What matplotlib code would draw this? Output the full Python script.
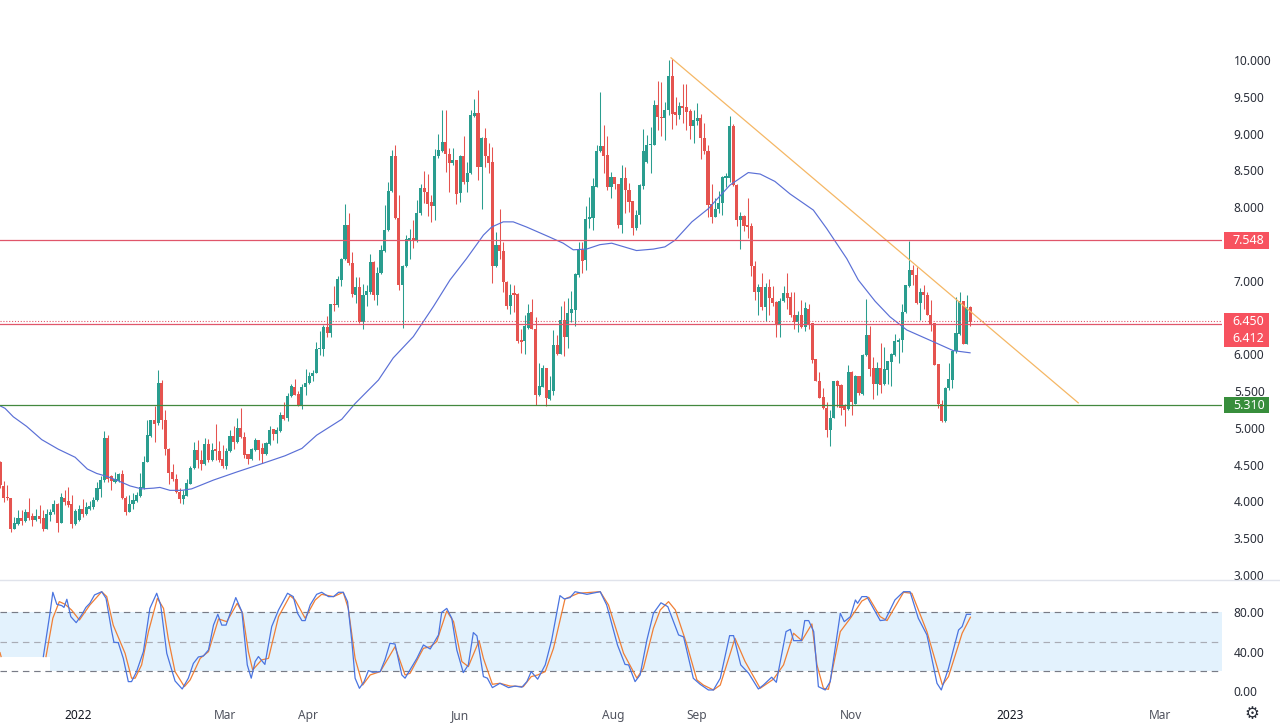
import matplotlib
matplotlib.use('Agg')
import matplotlib.pyplot as plt
import matplotlib.transforms as transforms
from matplotlib.lines import Line2D
from matplotlib.patches import Rectangle
import numpy as np

plt.rcParams['font.family'] = ['Noto Sans', 'DejaVu Sans']

# daily candles
opens = [4.53,4.21,4.06,4.04,3.63,3.69,3.77,3.74,3.85,3.80,
         3.75,3.80,3.77,3.63,3.81,3.85,3.96,3.71,4.05,4.00,
         3.96,3.69,3.75,3.90,3.83,3.90,3.93,4.02,4.17,4.29,
         4.86,4.34,4.27,4.28,4.37,4.05,3.86,3.96,4.00,4.07,
         4.18,4.54,4.89,5.10,5.06,5.61,5.10,4.71,4.40,4.31,
         4.13,4.03,4.08,4.24,4.45,4.70,4.56,4.51,4.78,4.56,
         4.71,4.69,4.57,4.48,4.68,4.89,4.81,5.00,4.87,4.64,
         4.58,4.70,4.83,4.72,4.65,4.78,4.98,4.92,4.96,5.17,
         5.13,5.43,5.56,5.46,5.30,5.55,5.61,5.70,5.75,6.07,
         6.07,6.37,6.29,6.68,6.67,7.01,7.29,7.76,7.24,6.81,
         6.91,6.44,6.80,6.85,7.25,6.80,7.10,7.41,7.69,8.22,
         8.69,7.85,6.94,7.20,7.55,7.58,7.54,7.92,8.26,8.20,
         8.07,8.02,8.69,8.77,8.88,8.72,8.60,8.64,8.19,8.70,
         8.34,8.46,9.24,9.28,8.54,8.94,8.70,8.61,7.20,7.49,
         7.40,6.98,6.66,6.83,6.82,6.20,6.18,6.36,6.57,6.35,
         5.44,5.56,5.82,5.39,5.50,6.13,6.01,6.47,6.23,6.56,
         6.60,7.08,7.42,7.28,7.84,7.85,8.28,8.77,8.83,8.71,
         8.28,8.41,8.32,7.76,8.39,8.23,8.08,7.72,7.90,8.29,
         8.61,8.84,8.85,9.39,9.22,9.21,9.32,9.78,9.29,9.25,
         9.36,9.36,9.31,9.10,9.17,9.21,8.94,8.77,8.04,7.87,
         7.97,8.05,8.40,8.40,9.10,8.30,7.82,7.88,7.76,7.75,
         7.20,6.84,6.91,6.64,6.91,6.77,6.71,6.41,6.73,6.83,
         6.78,6.54,6.44,6.53,6.37,6.62,6.42,5.93,5.64,5.42,
         5.27,4.97,5.14,5.64,5.58,5.29,5.25,5.76,5.33,5.70,
         5.46,5.99,6.26,5.81,5.60,5.81,5.59,5.79,5.90,5.99,
         6.17,6.19,6.57,6.93,7.15,7.08,6.70,6.84,6.80,6.54,
         6.42,5.87,5.33,5.09,5.54,5.65,6.04,6.28,6.72,6.14,6.64]
highs = [4.55,4.28,4.22,4.05,3.79,3.88,3.88,3.90,4.04,3.84,
         3.89,3.95,3.88,3.90,3.90,4.02,3.98,4.11,4.16,4.20,
         4.09,3.90,3.95,4.03,3.99,4.01,4.06,4.27,4.34,4.96,
         4.90,4.36,4.40,4.39,4.43,4.07,4.09,4.12,4.13,4.39,
         4.62,5.10,5.10,5.29,5.78,5.65,5.24,4.72,4.51,4.37,
         4.18,4.16,4.30,4.48,4.81,4.83,4.70,4.86,4.85,4.79,
         5.05,4.82,4.77,4.72,4.97,5.02,5.13,5.27,4.95,4.65,
         4.72,4.86,4.84,4.79,4.81,5.03,4.99,5.01,5.22,5.35,
         5.47,5.60,5.67,5.50,5.60,5.80,5.76,5.79,6.17,6.31,
         6.40,6.52,6.69,6.93,7.07,7.31,8.04,7.92,7.39,7.05,
         7.05,6.96,6.94,7.36,7.27,7.19,7.49,8.03,8.34,8.78,
         8.85,8.17,7.21,7.62,7.70,7.83,8.10,8.31,8.49,8.45,
         8.16,8.79,8.99,9.32,9.32,8.81,8.81,8.64,8.71,8.97,
         8.61,9.32,9.47,9.59,8.96,9.08,8.87,8.82,7.66,7.98,
         7.53,6.99,6.95,6.94,6.83,6.35,6.53,6.69,6.75,6.51,
         5.88,5.85,5.82,5.70,6.33,6.26,6.65,6.73,6.76,6.86,
         7.10,7.52,7.52,8.02,8.14,8.39,8.85,9.56,9.12,8.97,
         8.48,8.41,8.32,8.57,8.55,8.33,8.08,7.96,8.32,9.06,
         8.98,9.09,9.46,9.71,9.70,9.43,10.00,10.02,9.50,9.43,
         9.68,9.68,9.34,9.32,9.42,9.27,9.15,8.85,8.31,8.12,
         8.22,8.43,8.47,9.24,9.13,8.31,7.94,7.90,8.12,7.78,
         7.27,6.95,7.11,6.97,7.02,6.93,6.72,6.76,6.93,7.10,
         6.84,6.84,6.59,6.74,6.71,6.68,6.42,5.93,5.76,5.54,
         5.35,5.24,5.64,5.65,5.60,5.33,5.86,5.77,5.72,5.71,
         6.00,6.75,6.38,5.96,5.90,6.15,6.10,5.91,6.02,6.28,
         6.22,6.68,6.94,7.54,7.21,7.19,6.90,6.94,6.85,6.74,
         6.42,5.87,5.38,5.56,5.88,6.06,6.78,6.85,6.72,6.81,6.66]
lows = [4.18,3.99,4.02,3.59,3.62,3.68,3.68,3.72,3.75,3.66,
        3.74,3.70,3.60,3.62,3.74,3.83,3.59,3.70,3.95,3.93,
        3.64,3.68,3.74,3.79,3.81,3.88,3.90,4.00,4.06,4.27,
        4.27,4.16,4.25,4.27,4.03,3.82,3.85,3.90,3.99,4.06,
        4.17,4.53,4.88,4.81,5.04,4.99,4.63,4.24,4.28,4.11,
        3.98,3.97,4.07,4.23,4.44,4.45,4.42,4.50,4.53,4.55,
        4.56,4.53,4.46,4.44,4.67,4.71,4.80,4.86,4.59,4.51,
        4.56,4.69,4.56,4.52,4.63,4.77,4.84,4.79,4.95,5.11,
        5.09,5.42,5.44,5.29,5.25,5.45,5.60,5.64,5.74,5.99,
        5.98,6.24,6.24,6.59,6.64,6.93,7.28,7.21,6.78,6.70,
        6.43,6.34,6.65,6.82,6.74,6.67,7.09,7.39,7.68,8.21,
        7.84,6.87,6.36,7.19,7.30,7.45,7.53,7.90,8.05,7.88,
        7.80,7.83,8.67,8.75,8.48,8.20,8.57,8.04,8.07,8.32,
        8.20,8.45,9.23,8.37,7.97,8.54,8.47,6.97,7.19,7.30,
        6.85,6.62,6.55,6.58,6.16,6.02,6.00,6.34,6.34,5.31,
        5.43,5.55,5.29,5.38,5.45,5.99,6.00,5.98,6.08,6.44,
        6.39,7.05,7.10,7.15,7.72,7.69,8.27,8.75,8.46,8.23,
        8.13,8.25,7.71,7.65,7.92,7.94,7.62,7.69,7.77,8.25,
        8.60,8.46,8.84,9.05,8.97,8.91,9.25,9.06,9.12,9.20,
        9.14,9.05,8.93,8.87,9.12,8.66,8.72,7.86,7.79,7.86,
        7.92,7.89,8.28,8.34,8.29,7.74,7.43,7.67,7.58,7.07,
        6.74,6.53,6.60,6.45,6.53,6.65,6.23,6.24,6.71,6.62,
        6.51,6.34,6.30,6.36,6.31,6.34,5.88,5.64,5.40,5.25,
        4.88,4.75,5.13,5.28,5.17,5.03,5.24,5.17,5.32,5.45,
        5.45,5.98,5.70,5.39,5.44,5.47,5.58,5.60,5.57,5.98,
        5.88,6.03,6.56,6.92,6.94,6.69,6.47,6.62,6.53,6.31,
        5.85,5.27,5.08,5.08,5.51,5.54,6.02,6.26,6.14,6.14,6.38]
closes = [4.22,4.05,4.04,3.63,3.70,3.78,3.73,3.85,3.78,3.75,
          3.80,3.76,3.63,3.83,3.85,3.96,3.71,4.06,3.99,3.95,
          3.69,3.87,3.89,3.83,3.93,3.94,4.02,4.18,4.29,4.86,
          4.31,4.28,4.30,4.37,4.04,3.86,3.97,4.02,4.09,4.19,
          4.54,4.90,5.10,5.05,5.61,5.10,4.71,4.39,4.31,4.13,
          4.03,4.09,4.25,4.45,4.70,4.56,4.51,4.78,4.56,4.70,
          4.68,4.56,4.48,4.69,4.89,4.81,5.00,4.87,4.63,4.58,
          4.71,4.84,4.70,4.65,4.79,4.97,4.92,4.97,5.17,5.12,
          5.43,5.57,5.45,5.29,5.56,5.61,5.71,5.75,6.07,6.08,
          6.37,6.29,6.68,6.67,7.02,7.29,7.76,7.24,6.82,6.91,
          6.44,6.81,6.86,7.25,6.80,7.11,7.42,7.69,8.22,8.69,
          7.85,6.94,7.20,7.57,7.58,7.54,7.92,8.26,8.20,8.04,
          8.02,8.69,8.78,8.88,8.72,8.60,8.64,8.18,8.70,8.34,
          8.46,9.25,9.28,8.54,8.94,8.69,8.60,7.20,7.49,7.40,
          6.98,6.66,6.81,6.81,6.18,6.17,6.39,6.56,6.35,5.44,
          5.57,5.82,5.40,5.51,6.13,6.01,6.47,6.23,6.56,6.62,
          7.09,7.42,7.27,7.84,7.85,8.29,8.77,8.83,8.70,8.28,
          8.41,8.32,7.76,8.39,8.23,8.07,7.72,7.90,8.30,8.77,
          8.84,8.85,9.39,9.22,9.21,9.32,9.78,9.27,9.25,9.37,
          9.35,9.30,9.10,9.18,9.21,8.94,8.76,8.03,7.86,7.98,
          8.05,8.41,8.43,9.10,8.30,7.82,7.88,7.75,7.73,7.20,
          6.84,6.91,6.64,6.91,6.77,6.70,6.41,6.73,6.83,6.77,
          6.53,6.44,6.53,6.37,6.63,6.41,5.92,5.64,5.41,5.27,
          4.97,5.14,5.64,5.57,5.27,5.24,5.76,5.35,5.70,5.47,
          5.99,6.26,5.80,5.60,5.81,5.58,5.80,5.91,6.00,6.18,
          6.19,6.58,6.94,7.15,7.08,6.70,6.84,6.80,6.53,6.41,
          5.86,5.32,5.09,5.54,5.66,6.05,6.29,6.72,6.14,6.64,6.44]

# moving average, sampled at the bends
ma_bars = [0,1.4,3.7,7.4,11.6,16.2,20.9,24.3,26.9,29.7,32.9,36.2,39.4,42.7,44.5,47.3,50.6,53.3,
           59.4,65.9,73.3,79.3,84,88.1,95.1,98.8,105.3,109.4,115,120.6,125.2,129.8,134.5,136.8,
           140,142.8,146.5,152.6,156.7,159.5,163.2,166.9,170.2,177.1,181.8,185,187.8,192.5,197.1,
           203.1,208.2,211.5,215.6,219.8,226.3,230,235.6,238.8,243.5,247.6,252.3,259.7,265.2,269.9]
ma_vals = [5.30,5.265,5.15,5.02,4.84,4.71,4.60,4.44,4.38,4.34,4.28,4.21,4.17,4.18,4.19,4.15,4.15,4.17,
           4.29,4.40,4.52,4.62,4.72,4.90,5.117,5.33,5.65,5.95,6.24,6.65,7.01,7.30,7.62,7.73,
           7.80,7.80,7.73,7.60,7.51,7.42,7.43,7.49,7.51,7.41,7.43,7.46,7.55,7.80,7.98,
           8.30,8.47,8.45,8.35,8.18,7.96,7.71,7.30,7.01,6.72,6.51,6.33,6.17,6.05,6.02]

# stochastic %K and %D, sampled at the bends
k_bars = [12.06,13.9,14.7,15.8,17.2,17.8,18.6,19.7,21.2,22.7,23.9,25,26.3,28.3,29.5,31.1,31.7,32.9,34.3,35.7,
          36.6,38,39.9,41.7,43.6,44.7,46.4,48.7,50.7,52.4,53.8,55.2,56.6,58,59.4,60.6,61.7,62.9,65.6,67.3,
          68.8,69.9,71,71.9,73.7,75.6,77.5,80,81.6,82.8,84,84.9,86.3,88.1,89.5,91.4,92.8,94.2,95.5,96.7,
          97.9,98.8,100,101.3,102.5,103.7,105.8,107.1,108.5,109.9,111.8,112.7,116,117.8,119.7,122,122.9,124.3,125.7,127.1,
          128.9,130.3,131.7,132.7,134.5,135.6,137,139.1,141.5,143.3,145.2,146.6,147.8,149.6,151.7,153.5,155.8,157,158.6,160,
          163.3,167,168.8,171.8,173.9,174.9,176.7,178.1,180,181.8,183.9,185.8,188.8,190.2,192.9,194.8,197.1,198.5,200.4,203,
          204.1,206.1,208.3,211,212.4,214.7,216,218.7,219.9,220.8,223,223.9,225,226.4,227.7,229.6,231,233.8,234.9,236.6,
          238,238.6,239.8,241.2,244.9,246.3,249,251.4,253.2,255.5,257.9,260.7,261.9,263.9,266.7,267.7,268.9,270]
k_vals = [35,79,100.4,88.2,86.8,85,93.3,75.6,69.5,77.3,85,89.2,97.7,101,94.3,60.4,49.5,49.2,33.2,9.5,
          9.5,19.7,40,84,99.4,87.5,38.3,10.2,2,13,28,34.6,35.6,41.7,67,78,67,67,95,80.7,
          26.5,13,30,35,27,65.5,82.4,99.4,96,79,71.6,71.6,87.5,98.3,100.4,96,96,100.4,100.4,90.9,
          50.2,13,2.7,9.5,20.7,19,19.7,31.6,48.5,47.8,16.3,13,33.2,46.8,42.7,57,80,84,74,41.7,
          18.7,26.5,59.4,56,14.6,13,3.4,7.8,3.4,5,3.8,9.5,19.7,12,26.5,52,97,93.6,95,101,
          98.3,101,87.5,46.8,27,26.5,9.5,16.3,52,79,89.7,85.8,57,55,12.9,6.8,1,1,12.9,56.3,
          56.3,26.5,18,2,6,14,8.8,60.4,62.7,51.2,51.2,71.6,71.6,60.4,4.4,1,9.5,79,70.5,75.6,
          92.6,89.2,96,96,71.6,72.2,92.6,101,101,74,57,7.8,1,23,62,65.5,78,78]
d_bars = [12.8,14.7,16.5,18.1,19.9,22.1,25,28.3,29.7,31.5,34.8,36.6,37.6,39.4,41.3,43.8,45.5,46.8,48.7,51.3,
          52.9,55.7,58,60.8,63.1,66,67.5,69.1,70.3,72.8,74.7,77.5,80.7,82.1,84.9,87.7,89.5,92.8,95.5,96.9,
          98.8,100.9,103,105.8,109.9,112.7,114.1,117.8,119.7,121.5,124.3,126.2,128.5,130.3,133.3,134.5,137,139.1,141.9,145.6,
          147.8,149.6,151.7,154,157.2,160.9,167,169.3,173.5,177.2,179,181.8,183.7,186,187.9,191,193.9,195.7,198.5,200.4,
          204.5,207.3,211.5,215.2,218,220.8,223.1,225.9,227.3,229.1,230.5,233.8,236.6,239.8,241.7,244.9,246.8,251.4,253.7,257.9,
          262.2,263.9,267.7,270]
d_vals = [35,74,90.9,88.2,82.4,72.2,87.5,101,96,67,38.3,13,13,26.5,60.4,94.3,84,53.6,19.7,4.4,
          11.2,33.2,40,73.3,70.5,89.2,79,40,21.4,31.6,33.2,75.6,97,92.6,74,92.6,98.3,96,100.4,84,
          33.2,6,16.3,19.7,45,16.3,18,43.4,45,50.2,81.4,70.5,29.9,24.8,51.2,33.2,6.8,7.8,5,4.4,
          14.6,16.3,19.7,43.4,93.6,99.4,101,87.5,38.3,13,23,63.8,82.4,90.9,82.4,48.5,11.2,6,1,6,
          53.6,30,2.7,12,26.5,58.7,51.2,68.2,26.5,2.7,1.7,60.4,74,91.5,95.3,75.6,71.6,100.4,99.4,60.4,
          6,14.6,58.7,75]

# small remnant of the %D line at the left edge
d_stub_bars = [0, 0.3]
d_stub_vals = [39, 35]

# trend line from the August high
trend_bars = [186.7, 300]
trend_vals = [10.03, 5.34]

line_prices = [7.548, 6.412, 5.31]
line_colors = ['#e0566a', '#e0566a', '#43883f']
price_labels = ['7.548', '6.450', '6.412', '5.310']
price_label_pos = [7.548, 6.45, 6.215, 5.31]
price_label_colors = ['#f7525f', '#f7525f', '#f7525f', '#388e3c']

# 7.500 and 6.500 sit behind the coloured labels in the reference, so they are left out
price_ticks = [3, 3.5, 4, 4.5, 5, 5.5, 6, 7, 8, 8.5, 9, 9.5, 10]
stoch_ticks = [0, 40, 80]
date_ticks = [21.7, 62.6, 85.7, 128, 170.6, 193.9, 236.8, 281, 322.8]
date_labels = ['2022', 'Mar', 'Apr', 'Jun', 'Aug', 'Sep', 'Nov', '2023', 'Mar']

UP = '#2a9d8f'
DOWN = '#e5534f'
W, H = 1280, 728

fig = plt.figure(figsize=(W / 100, H / 100), dpi=100, facecolor='white')
ax = fig.add_axes([0, (H - 579) / H, 1222 / W, 579 / H])
ax2 = fig.add_axes([0, (H - 700) / H, 1222 / W, 120 / H])


def draw_candles(ax):
    o = np.array(opens)
    c = np.array(closes)
    x = np.arange(len(o))
    colors = [UP if b >= a else DOWN for a, b in zip(o, c)]
    ax.vlines(x, lows, highs, colors=colors, linewidth=0.75, zorder=2)
    heights = np.maximum(np.abs(c - o), 0.02)
    ax.bar(x, heights, bottom=np.minimum(o, c), width=0.86, color=colors, linewidth=0, zorder=2)


draw_candles(ax)
ax.plot(ma_bars, ma_vals, color='#5a6fd6', linewidth=0.85, zorder=3)
ax.plot(trend_bars, trend_vals, color='#f5b765', linewidth=0.9, zorder=3)
for price, color in zip(line_prices, line_colors):
    ax.axhline(price, color=color, linewidth=0.9, zorder=4)
ax.axhline(6.45, color='#e0566a', linewidth=0.8, linestyle=(0, (1, 1.6)), zorder=4)

ax.set_xlim(0, 340)
ax.set_ylim(2.945, 10.816)
ax.set_xticks([])
ax.yaxis.tick_right()
ax.set_yticks(price_ticks)
ax.set_yticklabels(['%.3f' % t for t in price_ticks])
ax.tick_params(axis='y', length=0, pad=8.5, labelsize=8.6, labelcolor='#2a2e39')
for spine in ax.spines.values():
    spine.set_visible(False)

# coloured price labels on the right scale
trans = transforms.blended_transform_factory(ax.transAxes, ax.transData)
for text, pos, color in zip(price_labels, price_label_pos, price_label_colors):
    ax.add_patch(Rectangle((1.0016, pos - 0.115), 0.0368, 0.23, transform=trans,
                           facecolor=color, edgecolor='none', clip_on=False, zorder=6))
    ax.text(1.0218, pos, text, transform=trans, color='white', fontsize=9, fontweight='bold',
            ha='center', va='center', clip_on=False, zorder=7)

# stochastic pane
ax2.axhspan(20, 80, color='#e3f2fd', linewidth=0, zorder=1)
ax2.add_patch(Rectangle((0, 19.5), 13.9, 15.5, facecolor='white', edgecolor='none', zorder=1.5))
for level, color in zip([80, 50, 20], ['#787b86', '#a9acb5', '#787b86']):
    ax2.axhline(level, color=color, linewidth=0.85, linestyle=(0, (5.5, 4)), zorder=2)
ax2.plot(d_stub_bars, d_stub_vals, color='#f07f35', linewidth=0.9, zorder=3)
ax2.plot(d_bars, d_vals, color='#f07f35', linewidth=0.9, zorder=3)
ax2.plot(k_bars, k_vals, color='#4a74e0', linewidth=0.9, zorder=4)

ax2.set_xlim(0, 340)
ax2.set_ylim(-9.2, 112.9)
ax2.yaxis.tick_right()
ax2.set_yticks(stoch_ticks)
ax2.set_yticklabels(['%.2f' % t for t in stoch_ticks])
ax2.tick_params(axis='y', length=0, pad=8.5, labelsize=8.6, labelcolor='#2a2e39')
ax2.set_xticks(date_ticks)
ax2.set_xticklabels(date_labels)
ax2.tick_params(axis='x', length=0, pad=6.5, labelsize=8.6, labelcolor='#50535e')
for label in ax2.get_xticklabels():
    if label.get_text() in ('2022', '2023'):
        label.set_color('#131722')
        label.set_fontweight('medium')
for spine in ax2.spines.values():
    spine.set_visible(False)

# pane separator and settings icon
fig.add_artist(Line2D([0, 1], [(H - 579.5) / H] * 2, color='#e0e3eb', linewidth=1))
fig.text(1252 / W, (H - 714) / H, '\u2699', family='DejaVu Sans', fontsize=12, color='#2a2e39',
         ha='center', va='center')

fig.savefig('out.png', dpi=100)
plt.close(fig)
